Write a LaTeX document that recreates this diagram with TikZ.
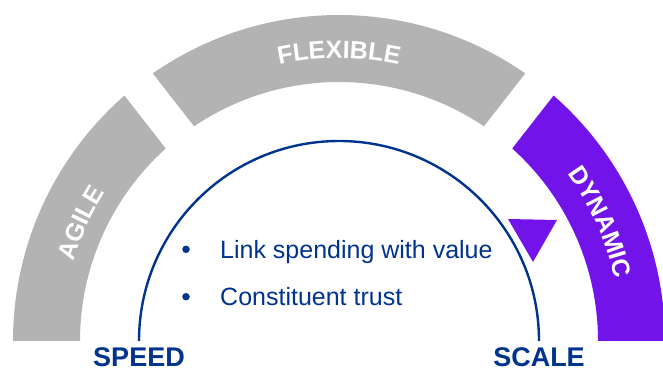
\documentclass[tikz,border=0pt]{standalone}
\usepackage{fontspec}
\setmainfont{Liberation Sans}
\usetikzlibrary{decorations.text}
\definecolor{kblue}{HTML}{00338D}
\definecolor{kpurple}{HTML}{7213EA}
\definecolor{kgray}{HTML}{B3B3B3}
\begin{document}
\begin{tikzpicture}[x=1pt,y=1pt,
  bandtext/.style={decorate, decoration={text along path, text color=white, text align=center,
     text={|\fontsize{25}{30}\selectfont\bfseries|#1}}},
  endlabel/.style={anchor=base, text=kblue, font=\fontsize{27}{32}\selectfont\bfseries, inner sep=0},
  bullettext/.style={anchor=base west, text=kblue, font=\fontsize{25}{30}\selectfont, inner sep=0},
  bulletdot/.style={circle, fill=kblue, inner sep=0, minimum size=7.5pt}]
\useasboundingbox (0,0) rectangle (663,371);
\clip (0,0) rectangle (663,371);
\coordinate (c) at (339,30);
\def\Ro{326}\def\Ri{259}\def\g{18}
% AGILE band
\fill[kgray] ([shift={(180:\Ro)}]c) arc[start angle=180, end angle={128+asin(\g/\Ro)}, radius=\Ro]
  -- ([shift={({128+asin(\g/\Ri)}:\Ri)}]c) arc[start angle={128+asin(\g/\Ri)}, end angle=180, radius=\Ri] -- cycle;
% FLEXIBLE band
\fill[kgray] ([shift={({128-asin(\g/\Ro)}:\Ro)}]c) arc[start angle={128-asin(\g/\Ro)}, end angle={52+asin(\g/\Ro)}, radius=\Ro]
  -- ([shift={({52+asin(\g/\Ri)}:\Ri)}]c) arc[start angle={52+asin(\g/\Ri)}, end angle={128-asin(\g/\Ri)}, radius=\Ri] -- cycle;
% DYNAMIC band
\fill[kpurple] ([shift={({52-asin(\g/\Ro)}:\Ro)}]c) arc[start angle={52-asin(\g/\Ro)}, end angle=0, radius=\Ro]
  -- ([shift={(0:\Ri)}]c) arc[start angle=0, end angle={52-asin(\g/\Ri)}, radius=\Ri] -- cycle;
% band labels
\path[bandtext=AGILE] ([shift={(178:277)}]c) arc[start angle=178, end angle=133, radius=277];
\path[bandtext=FLEXIBLE] ([shift={(124:283)}]c) arc[start angle=124, end angle=56, radius=283];
\path[bandtext=DYNAMIC] ([shift={(47:283)}]c) arc[start angle=47, end angle=2, radius=283];
% inner arc
\draw[kblue, line width=2.4pt] ([shift={(180:200)}]c) arc[start angle=180, end angle=0, radius=200];
% triangle
\fill[kpurple] (508,152) -- (557,151) -- (533,109) -- cycle;
% bullets
\node[bulletdot] (d1) at (186,121.7) {};
\node[bulletdot] (d2) at (186,74.3) {};
\node[bullettext] (t1) at (220,112.7) {Link spending with value};
\node[bullettext] (t2) at (220,65) {Constituent trust};
% end labels
\node[endlabel] (speed) at (139,4) {SPEED};
\node[endlabel] (scale) at (539,4) {SCALE};
\end{tikzpicture}
\end{document}
